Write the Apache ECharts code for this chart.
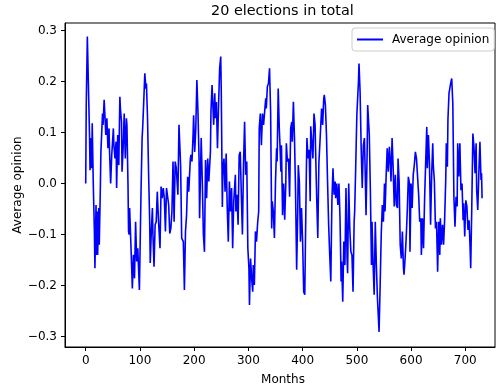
<!DOCTYPE html>
<html>
<head>
<meta charset="utf-8">
<script src="https://cdn.jsdelivr.net/npm/echarts@6/dist/echarts.min.js"></script>
<style>
html,body{margin:0;padding:0;background:#fff;}
#chart{width:496px;height:390px;}
</style>
</head>
<body>
<div id="chart"></div>
<script>
// Data (month, average opinion)
var months = [
0,1,3,5,7,8,9,11,12,14,16,17,19,20,21,22,24,25,27,28,31,32,34,36,37,39,41,43,44,46,48,51,52,54,56,57,59,61,63,64,66,67,69,71,73,75,76,78,79,
80,81,84,86,88,90,92,94,96,99,100,102,104,105,107,109,111,112,114,116,118,119,121,123,124,126,128,130,132,134,135,137,139,141,143,145,147,149,151,153,155,157,159,161,163,165,167,
170,172,175,177,180,182,184,186,188,190,193,194,196,198,199,201,203,205,207,209,210,213,215,217,219,221,223,225,227,230,231,233,236,238,239,241,243,245,247,249,250,252,
253,255,257,259,261,263,265,267,269,271,273,276,277,279,281,283,285,287,289,291,293,295,297,299,301,302,304,306,308,309,311,313,315,317,319,320,322,324,326,328,330,332,333,335,337,339,341,343,
344,346,348,350,352,353,355,357,358,360,361,363,365,367,369,370,372,374,376,378,380,381,383,385,387,389,391,392,394,396,398,400,402,404,405,407,408,410,412,414,415,417,419,421,423,424,426,428,430,432,
433,435,437,439,440,442,444,446,448,450,452,454,456,458,460,461,463,465,467,469,471,472,474,476,478,480,482,483,485,487,489,491,493,495,496,498,500,503,504,506,508,510,512,514,515,517,519,520,
523,525,527,528,530,532,534,536,538,541,543,545,547,549,551,552,554,556,558,560,562,563,565,567,569,571,573,575,576,578,580,582,584,586,587,589,591,593,595,597,598,600,602,604,606,608,
610,612,614,616,618,619,621,623,625,627,629,630,632,634,636,638,640,641,643,645,647,649,651,653,654,656,658,660,662,
664,665,667,668,670,672,673,675,677,679,681,683,685,686,688,690,692,694,696,697,699,701,703,705,707,709,710,712,714,716,718,720,721,723,725,727,729,730,731
];
var opinion = [
0.0,0.155,0.288,0.286,0.095,0.026,0.089,0.03,0.118,-0.003,-0.094,-0.166,-0.042,-0.14,-0.055,-0.14,-0.048,-0.12,-0.009,0.062,0.137,0.115,0.164,0.121,0.095,0.128,0.069,0.108,0.062,0.0,0.056,0.108,0.075,0.049,0.082,-0.009,0.095,0.036,0.17,0.147,0.121,0.023,0.069,0.137,0.049,0.128,0.115,-0.003,-0.094,
-0.1,-0.048,-0.14,-0.206,-0.14,-0.186,-0.075,-0.153,-0.127,-0.209,-0.147,-0.016,0.089,0.108,0.16,0.216,0.186,0.196,0.128,0.017,-0.075,-0.156,-0.094,-0.048,-0.1,-0.163,-0.081,-0.075,-0.016,-0.068,-0.068,-0.127,-0.006,-0.029,-0.009,-0.029,-0.094,-0.009,-0.009,-0.042,-0.098,-0.088,-0.055,0.043,-0.075,0.043,0.03,
-0.022,0.115,0.036,-0.107,-0.114,-0.209,-0.094,-0.062,0.013,-0.016,0.049,0.056,0.043,0.095,0.134,0.062,0.108,0.203,0.141,0.049,-0.068,0.089,0.004,-0.1,-0.134,0.046,-0.029,0.049,0.004,0.062,0.141,0.193,0.115,0.177,0.128,0.16,0.069,0.154,0.226,0.249,0.18,-0.046,
0.03,0.049,-0.016,0.059,-0.048,-0.114,0.004,-0.055,-0.009,-0.127,-0.035,0.017,-0.055,-0.022,-0.081,0.056,0.062,-0.022,-0.1,0.036,0.121,0.017,0.043,-0.127,-0.166,-0.238,-0.147,-0.186,-0.212,-0.16,-0.199,-0.094,-0.114,-0.078,-0.055,0.108,0.137,0.075,0.137,0.115,0.141,0.167,0.147,0.19,0.196,0.226,0.141,-0.088,
-0.035,-0.055,-0.107,0.004,0.069,0.043,0.186,0.108,0.082,0.023,0.075,-0.062,0.0,-0.071,0.0,0.079,0.043,0.049,-0.026,0.108,0.121,0.082,0.16,0.089,-0.016,-0.169,-0.055,0.036,0.004,-0.114,-0.048,-0.114,-0.212,-0.218,-0.134,0.03,0.089,0.049,0.066,-0.035,0.112,0.115,0.049,0.137,0.115,0.062,-0.029,-0.107,0.04,0.082,
0.082,0.147,0.115,0.167,0.174,0.154,0.095,0.004,-0.081,-0.14,-0.192,-0.035,0.03,-0.022,0.004,-0.029,0.0,-0.042,0.0,-0.068,-0.192,-0.153,-0.232,-0.114,-0.16,-0.009,-0.147,-0.176,0.0,-0.088,-0.134,-0.14,-0.212,-0.075,-0.055,0.036,0.134,0.2,0.235,0.18,0.069,-0.009,0.075,0.089,0.043,-0.062,0.062,0.154,
0.095,-0.016,-0.16,-0.075,-0.16,-0.218,-0.075,-0.16,-0.225,-0.291,-0.199,-0.1,-0.042,-0.075,0.0,-0.055,0.013,0.069,0.023,0.072,0.036,0.004,0.089,0.03,-0.045,0.017,-0.042,-0.048,0.049,0.004,-0.12,-0.147,-0.094,-0.166,-0.179,-0.147,-0.107,-0.055,0.013,0.0,-0.134,0.0,-0.048,0.017,0.036,0.062,
0.049,0.052,-0.022,-0.075,-0.068,-0.14,-0.068,-0.127,-0.029,0.043,0.111,0.03,0.095,0.036,-0.081,0.017,0.079,0.036,0.004,-0.088,-0.075,-0.173,-0.075,-0.14,-0.068,-0.12,-0.081,-0.12,-0.068,
0.01,0.079,0.033,0.125,0.177,0.19,0.196,0.206,0.157,-0.026,-0.085,-0.026,-0.045,0.079,0.014,0.079,-0.013,0.0,-0.072,-0.039,-0.104,-0.033,-0.045,-0.091,-0.072,-0.13,-0.166,-0.045,0.098,0.072,0.02,0.079,-0.013,-0.052,0.02,0.082,0.007,0.02,-0.029
];
var xTicks = [0,100,200,300,400,500,600,700];
var yTicks = [-0.3,-0.2,-0.1,0.0,0.1,0.2,0.3];
var titleText = '20 elections in total';
var seriesName = 'Average opinion';
var xName = 'Months';
var yName = 'Average opinion';

var pairs = [];
for (var i = 0; i < Math.min(months.length, opinion.length); i++) {
  pairs.push([months[i], opinion[i]]);
}

var FONT = 'DejaVu Sans';
var chart = echarts.init(document.getElementById('chart'), null, {renderer: 'canvas'});
chart.setOption({
  animation: false,
  backgroundColor: '#ffffff',
  title: {
    text: titleText,
    left: 211,
    top: 4,
    padding: 0,
    textStyle: {fontFamily: FONT, fontSize: 14.4, fontWeight: 'normal', color: '#000'}
  },
  legend: {
    data: [seriesName],
    left: 352,
    top: 28,
    padding: [5, 5, 5, 5],
    icon: 'rect',
    itemWidth: 26,
    itemHeight: 2,
    borderColor: '#cccccc',
    borderWidth: 1,
    borderRadius: 3,
    backgroundColor: 'rgba(255,255,255,0.8)',
    textStyle: {fontFamily: FONT, fontSize: 12, color: '#000', padding: [0, 0, 0, 4], lineHeight: 13}
  },
  grid: {
    left: 65, right: 1, top: 23, bottom: 43,
    show: true, borderColor: '#000', borderWidth: 1,
    containLabel: false, outerBoundsMode: 'none'
  },
  xAxis: {
    type: 'value',
    min: -38.2, max: 754.8,
    name: xName,
    nameLocation: 'middle',
    nameGap: 27,
    nameMoveOverlap: false,
    nameTextStyle: {fontFamily: FONT, fontSize: 12, color: '#000', padding: [0, 0, 0, 6]},
    axisLine: {show: true, onZero: false, lineStyle: {color: '#000', width: 1}},
    axisTick: {show: true, inside: false, length: 4, customValues: xTicks, lineStyle: {color: '#000'}},
    axisLabel: {customValues: xTicks, margin: 8, fontFamily: FONT, fontSize: 12, color: '#000'},
    splitLine: {show: false}
  },
  yAxis: {
    type: 'value',
    min: -0.3206, max: 0.3147,
    name: yName,
    nameLocation: 'middle',
    nameGap: 41,
    nameMoveOverlap: false,
    nameTextStyle: {fontFamily: FONT, fontSize: 12, color: '#000'},
    axisLine: {show: true, onZero: false, lineStyle: {color: '#000', width: 1}},
    axisTick: {show: true, inside: false, length: 4, customValues: yTicks, lineStyle: {color: '#000'}},
    axisLabel: {
      customValues: yTicks, margin: 8, fontFamily: FONT, fontSize: 12, color: '#000',
      formatter: function (v) { var s = Math.abs(v).toFixed(1); return (v < -1e-9 ? '\u2212' : '') + s; }
    },
    splitLine: {show: false}
  },
  series: [{
    name: seriesName,
    type: 'line',
    data: pairs,
    showSymbol: false,
    symbol: 'none',
    lineStyle: {color: '#0000ff', width: 1.6},
    itemStyle: {color: '#0000ff'}
  }]
});
</script>
</body>
</html>
